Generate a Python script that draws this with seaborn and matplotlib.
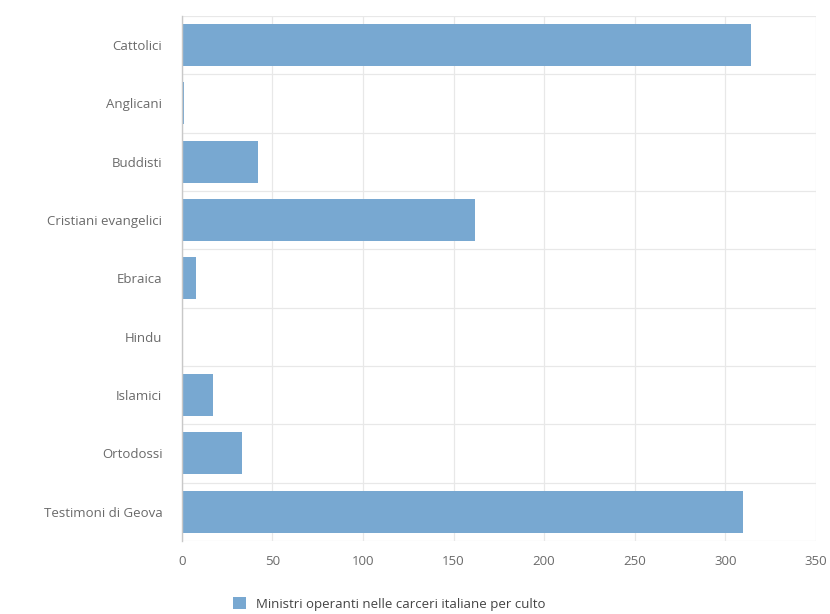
import numpy as np
import pandas as pd
import seaborn as sns
import matplotlib.pyplot as plt
from matplotlib.patches import Patch

# data
culti = ['Cattolici', 'Anglicani', 'Buddisti', 'Cristiani evangelici', 'Ebraica',
         'Hindu', 'Islamici', 'Ortodossi', 'Testimoni di Geova']
ministri = [314, 1, 42, 162, 8, 0, 17, 33, 310]
serie = 'Ministri operanti nelle carceri italiane per culto'

df = pd.DataFrame({'culto': culti, 'ministri': ministri})

sns.set_theme(style='white')
plt.rcParams['font.family'] = ['Open Sans', 'DejaVu Sans']

bar_col = '#78a8d1'
grid_col = '#e8e8e8'
txt_col = '#6a6a6a'

fig = plt.figure(figsize=(8.3, 6.14), dpi=100)
ax = fig.add_axes([0.219, 0.119, 0.764, 0.855])

sns.barplot(data=df, x='ministri', y='culto', orient='h', color=bar_col,
            width=0.72, saturation=1, linewidth=0, ax=ax)

ax.set_xlim(0, 350)
ax.set_ylim(len(culti) - 0.5, -0.5)
ax.set_xticks(np.arange(0, 351, 50))
ax.set_xlabel('')
ax.set_ylabel('')

# grid: vertical at ticks, horizontal between categories
ax.set_yticks(np.arange(-0.5, len(culti), 1), minor=True)
ax.grid(axis='x', color=grid_col, lw=0.9)
ax.grid(axis='y', which='minor', color=grid_col, lw=0.9)
ax.set_axisbelow(True)

for s in ['top', 'right', 'bottom']:
    ax.spines[s].set_visible(False)
ax.spines['left'].set_color('#c8c8c8')
ax.spines['left'].set_linewidth(1)

ax.tick_params(axis='y', which='major', length=0, labelsize=9.5, labelcolor=txt_col, pad=14)
ax.tick_params(axis='y', which='minor', length=6, color='#c8c8c8', direction='out')
ax.tick_params(axis='x', length=0, labelsize=9.5, labelcolor=txt_col, pad=10)

handles = [Patch(facecolor=bar_col, edgecolor='none', label=serie)]
fig.legend(handles=handles, loc='center', bbox_to_anchor=(0.469, 0.016), frameon=False,
           fontsize=9.5, labelcolor='#444444', handlelength=1.0, handleheight=1.0,
           handletextpad=0.8)

fig.savefig('out.png', dpi=100, facecolor='white')
